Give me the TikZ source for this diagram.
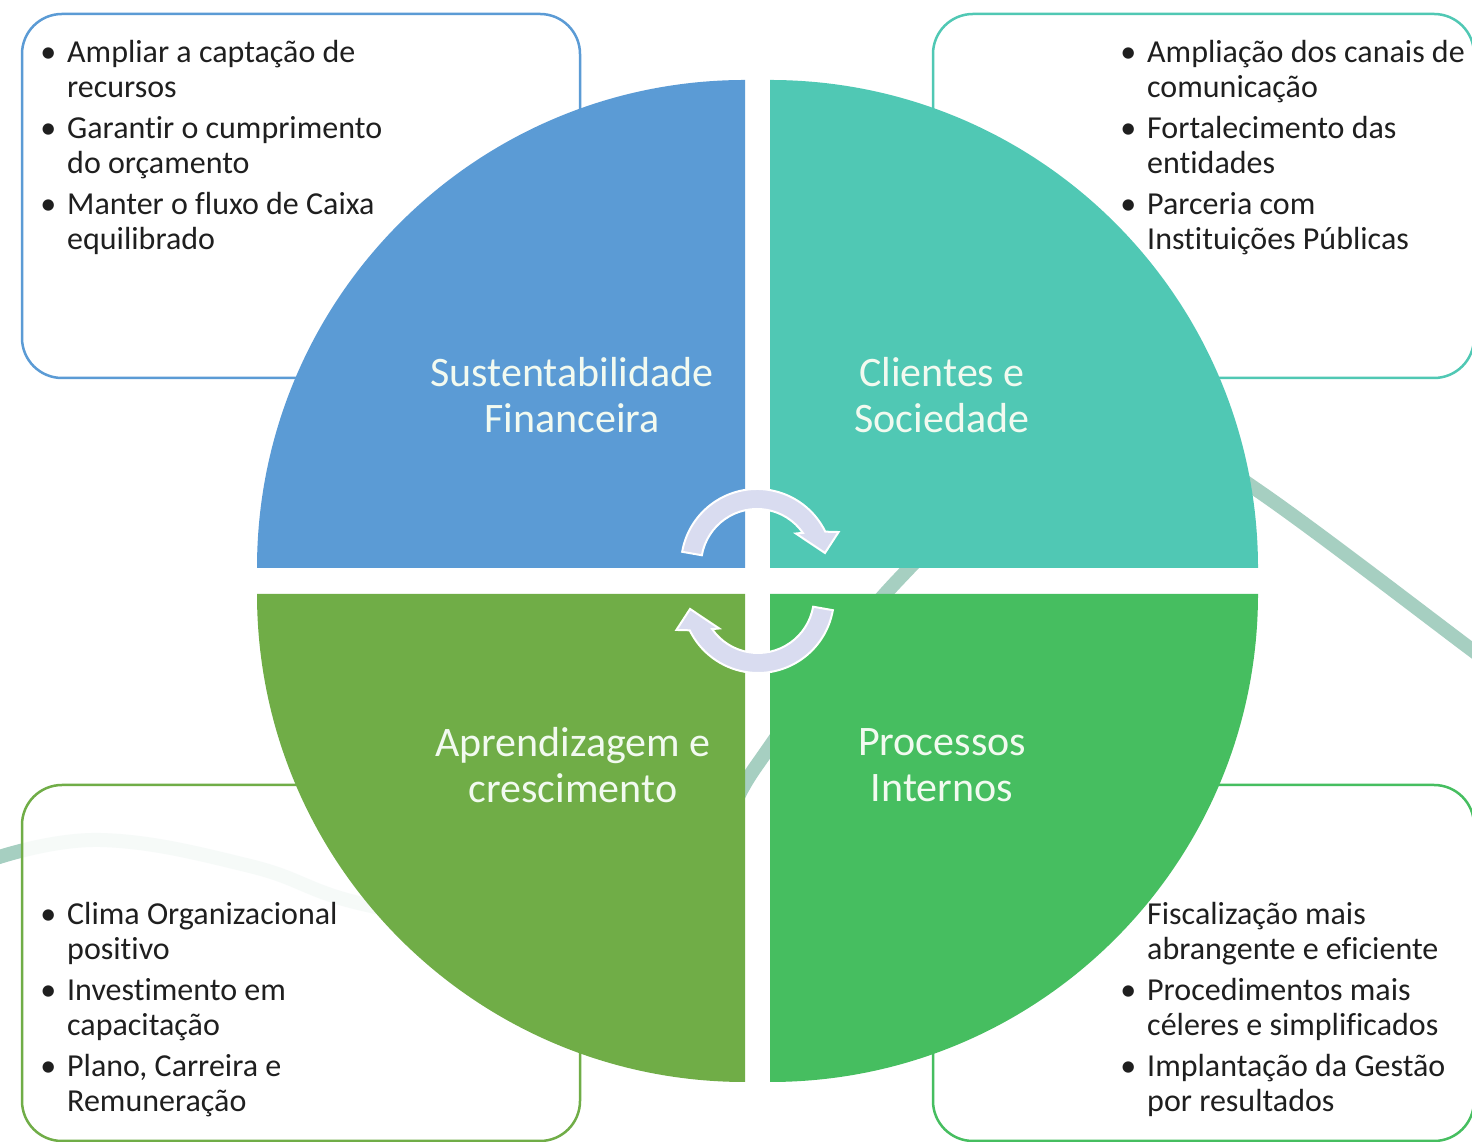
\documentclass[tikz,border=0pt]{standalone}
\usepackage{fontspec}
\setmainfont{Carlito}[Ligatures={NoCommon}]

\definecolor{finblue}{RGB}{91,155,213}
\definecolor{cliteal}{RGB}{80,200,180}
\definecolor{aprgreen}{RGB}{112,173,71}
\definecolor{progreen}{RGB}{70,190,96}
\definecolor{swoosh}{RGB}{166,207,193}
\definecolor{cycfill}{RGB}{217,220,240}
\definecolor{labeltext}{RGB}{242,250,240}

\newcommand{\bul}{\llap{\textbullet\hspace{11pt}}}

\tikzset{
  listbox/.style={rectangle, rounded corners=40pt, line width=2.5pt, fill=white, fill opacity=0.9, inner sep=0pt},
  listtext/.style={anchor=north west, align=left, inner sep=0pt, text=black!88, font=\fontsize{32}{35}\selectfont},
  quadlabel/.style={align=center, inner sep=0pt, text=labeltext, font=\fontsize{42}{46}\selectfont},
  cyc/.pic={
    \filldraw[fill=cycfill, draw=white, line width=2pt] (170:76) arc[start angle=170, end angle=26, radius=76]
      -- (22:88) -- (10:69) -- (39:50) -- (35:56) arc[start angle=35, end angle=170, radius=56] -- cycle;
  }
}

\begin{document}
\begin{tikzpicture}[x=1pt, y=1pt]
  \useasboundingbox (0,0) rectangle (1472,1142);
  \fill[white] (0,0) rectangle (1472,1142);

  % background swoosh
  \draw[swoosh, line width=14pt] plot[smooth, tension=0.7] coordinates {(-10,282) (100,302) (250,276) (367,237) (560,207) (700,282) (757,377) (897,561) (1050,687) (1180,692) (1257,652) (1472,492) (1500,470)};

  % boxes
  \node[listbox, draw=finblue, minimum width=558pt, minimum height=364pt] (finbox) at (301,946) {};
  \node[listbox, draw=cliteal, minimum width=541pt, minimum height=364pt] (clibox) at (1203.5,946) {};
  \node[listbox, draw=aprgreen, minimum width=558pt, minimum height=356pt] (aprbox) at (301,179) {};
  \node[listbox, draw=progreen, minimum width=541pt, minimum height=356pt] (probox) at (1203.5,179) {};

  % quadrants
  \fill[finblue] (745,574) -- ++(-488,0) arc[start angle=180, end angle=90, radius=488] -- cycle;
  \fill[cliteal] (770,574) -- ++(0,488) arc[start angle=90, end angle=0, radius=488] -- cycle;
  \fill[aprgreen] (745,548) -- ++(-488,0) arc[start angle=180, end angle=270, radius=488] -- cycle;
  \fill[progreen] (770,548) -- ++(488,0) arc[start angle=0, end angle=-90, radius=488] -- cycle;

  \node[quadlabel] (finlabel) at (572,747) {Sustentabilidade\\Financeira};
  \node[quadlabel] (clilabel) at (942,747) {Clientes e\\Sociedade};
  \node[quadlabel] (aprlabel) at (573,377) {Aprendizagem e\\crescimento};
  \node[quadlabel] (prolabel) at (942,377) {Processos\\Internos};

  % cycle arrows
  \pic at (757,577) {cyc};
  \pic[rotate=180] at (758,545) {cyc};

  % lists
  \node[listtext] (fintext) at (67,1102) {\bul Ampliar a captação de\\recursos\\[6pt]
    \bul Garantir o cumprimento\\do orçamento\\[6pt]
    \bul Manter o fluxo de Caixa\\equilibrado};
  \node[listtext] (clitext) at (1147,1102) {\bul Ampliação dos canais de\\comunicação\\[6pt]
    \bul Fortalecimento das\\entidades\\[6pt]
    \bul Parceria com\\Instituições Públicas};
  \node[listtext] (aprtext) at (67,240) {\bul Clima Organizacional\\positivo\\[6pt]
    \bul Investimento em\\capacitação\\[6pt]
    \bul Plano, Carreira e\\Remuneração};
  \node[listtext] (protext) at (1147,240) {Fiscalização mais\\abrangente e eficiente\\[6pt]
    \bul Procedimentos mais\\céleres e simplificados\\[6pt]
    \bul Implantação da Gestão\\por resultados};
\end{tikzpicture}
\end{document}
